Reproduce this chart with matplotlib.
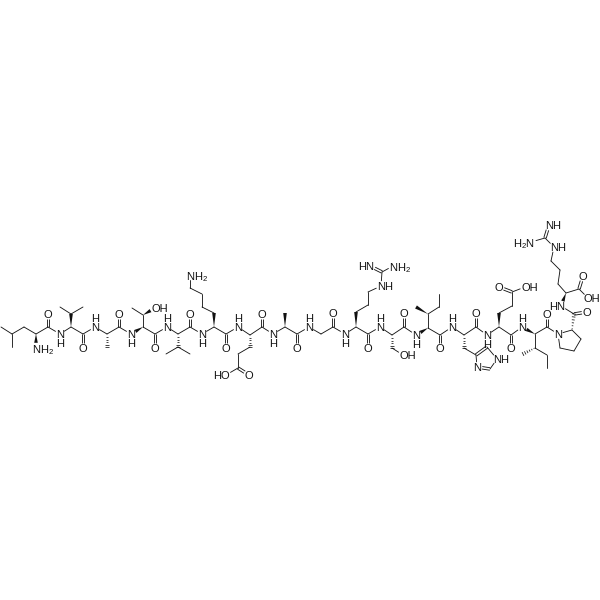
import numpy as np
import matplotlib
matplotlib.use("Agg")
import matplotlib.pyplot as plt

plt.rcParams['font.family'] = ['Liberation Sans', 'DejaVu Sans']

atom_names = ("N1 CA1 CB1 CG1 CD1a CD1b C1 O1 "
    "N2 CA2 CB2 CG2a CG2b C2 O2 "
    "N3 CA3 CB3 C3 O3 "
    "N4 CA4 CB4 CG4 OG4 C4 O4 "
    "N5 CA5 CB5 CG5a CG5b C5 O5 "
    "N6 CA6 CB6 CG6 CD6 CE6 NZ6 C6 O6 "
    "N7 CA7 CB7 CG7 CD7 OE7a OE7b C7 O7 "
    "N8 CA8 CB8 C8 O8 "
    "N9 CA9 C9 O9 "
    "N10 CA10 CB10 CG10 CD10 NE10 CZ10 NH10a NH10b C10 O10 "
    "N11 CA11 CB11 OG11 C11 O11 "
    "N12 CA12 CB12 CG12a CG12b CD12 C12 O12 "
    "N13 CA13 CB13 CG13 CD13 NE13 CE13 ND13 C13 O13 "
    "N14 CA14 CB14 CG14 CD14 OE14a OE14b C14 O14 "
    "N15 CA15 CB15 CG15a CG15b CD15 C15 O15 "
    "N16 CA16 CB16 CG16 CD16 C16 O16 "
    "N17 CA17 CB17 CG17 CD17 NE17 CZ17 NH17a NH17b C17 O17a O17b").split()
atom_x = [36,36,24,12,1,12,48,48,
    60,71,71,60,83,83,83,
    95,107,107,119,119,
    131,143,143,132,155,155,155,
    167,178,178,166,190,190,190,
    202,214,214,202,202,190,190,226,226,
    238,250,250,238,238,249,226,262,262,
    273,285,285,297,297,
    309,321,333,333,
    345,356,356,368,368,381,382,370,393,368,368,
    380,392,392,403,404,404,
    416,428,428,416,439,439,440,440,
    452,464,464,476,487,497,490,477,476,476,
    487,499,499,512,512,499,525,511,511,
    522,535,535,523,547,547,547,547,
    558,572,581,574,560,574,587,
    561,566,558,560,551,554,545,549,531,579,583,588]
atom_y = [348,334,327,334,327,347,327,314,
    334,327,314,307,307,334,348,
    327,334,347,327,314,
    334,327,315,308,308,334,348,
    327,334,347,354,354,327,314,
    334,327,313,307,294,288,275,334,348,
    327,335,347,354,368,375,375,327,314,
    334,327,313,334,348,
    327,334,327,313,
    334,327,312,305,292,286,272,266,266,334,348,
    327,335,348,355,327,313,
    335,328,314,307,307,294,335,348,
    327,335,348,355,347,359,369,367,327,313,
    335,327,313,306,292,287,287,335,348,
    327,334,348,354,355,368,327,314,
    334,330,339,351,348,314,312,
    306,293,284,270,261,247,238,225,242,289,276,298]

single_bonds = """CA1-CB1 CB1-CG1 CG1-CD1a CG1-CD1b CA1-C1 C1-N2
N2-CA2 CB2-CG2a CB2-CG2b CA2-C2 C2-N3
N3-CA3 CA3-C3 C3-N4
CA4-CB4 CB4-CG4 CA4-C4 C4-N5
N5-CA5 CB5-CG5a CB5-CG5b CA5-C5 C5-N6
N6-CA6 CB6-CG6 CG6-CD6 CD6-CE6 CE6-NZ6 CA6-C6 C6-N7
N7-CA7 CB7-CG7 CG7-CD7 CD7-OE7b CA7-C7 C7-N8
N8-CA8 CA8-C8 C8-N9
N9-CA9 CA9-C9 C9-N10
N10-CA10 CB10-CG10 CG10-CD10 CD10-NE10 NE10-CZ10 CZ10-NH10b CA10-C10 C10-N11
N11-CA11 CB11-OG11 CA11-C11 C11-N12
CA12-CB12 CB12-CG12b CG12b-CD12 CA12-C12 C12-N13
N13-CA13 CB13-CG13 CG13-ND13 CD13-NE13 NE13-CE13 CA13-C13 C13-N14
N14-CA14 CB14-CG14 CG14-CD14 CD14-OE14b CA14-C14 C14-N15
CA15-CB15 CB15-CG15b CG15b-CD15 CA15-C15 C15-N16
N16-CA16 CA16-CB16 CB16-CG16 CG16-CD16 CD16-N16 C16-N17
CA17-CB17 CB17-CG17 CG17-CD17 CD17-NE17 NE17-CZ17 CZ17-NH17b CA17-C17 C17-O17b""".split()
double_bonds = """C1-O1 C2-O2 C3-O3 C4-O4 C5-O5 C6-O6 C7-O7 C8-O8 C9-O9 C10-O10 C11-O11
C12-O12 C13-O13 C14-O14 C15-O15 C16-O16 C17-O17a CD7-OE7a CD14-OE14a CZ10-NH10a CZ17-NH17a
CG13-CD13 CE13-ND13""".split()
wedge_bonds = """CA1-N1 CA2-CB2 CA4-N4 CB4-OG4 CA6-CB6 CA8-CB8 CA10-CB10 CA12-N12 CB12-CG12a
CA14-CB14 CA15-N15 CA17-N17""".split()
hash_bonds = "CA3-CB3 CA5-CB5 CA7-CB7 CA11-CB11 CA13-CB13 CB15-CG15a CA16-C16".split()

NH2 = r'$\mathregular{NH_2}$'
H2N = r'$\mathregular{H_2N}$'
label_atoms = ["N1", "OG4", "NZ6", "OE7b", "NE10", "NH10a", "NH10b", "OG11", "NE13", "OE14b",
               "NE17", "NH17a", "NH17b", "O17b", "N17", "ND13", "N16"]
label_texts = [NH2, "OH", NH2, "HO", "NH", "HN", NH2, "OH", "NH", "OH",
               "NH", "NH", H2N, "OH", "HN", "N", "N"]
label_sides = ["l", "l", "l", "r", "l", "r", "l", "l", "l", "l",
               "l", "l", "r", "l", "r", "c", "c"]
oxygens = ["O%d" % i for i in range(1, 17)] + ["O17a", "OE7a", "OE14a"]
amide_h_below = ["N2", "N4", "N6", "N8", "N10", "N12", "N14"]
amide_h_above = ["N3", "N5", "N7", "N9", "N11", "N13", "N15"]

pos = {n: np.array([x, y], float) for n, x, y in zip(atom_names, atom_x, atom_y)}
labelled = set(label_atoms) | set(oxygens) | set(amide_h_below) | set(amide_h_above)

fig = plt.figure(figsize=(6, 6), dpi=100)
ax = fig.add_axes([0, 0, 1, 1])
ax.set_xlim(0, 600)
ax.set_ylim(600, 0)
ax.axis('off')

LW = 0.62
GAP = 5.2
INK = '#111111'


def ends(bond):
    a, b = bond.split('-')
    p, q = pos[a].copy(), pos[b].copy()
    u = (q - p) / np.linalg.norm(q - p)
    if a in labelled:
        p = p + u * GAP
    if b in labelled:
        q = q - u * GAP
    return p, q, u


for bond in single_bonds:
    p, q, u = ends(bond)
    ax.plot([p[0], q[0]], [p[1], q[1]], color=INK, lw=LW, solid_capstyle='round')

for bond in double_bonds:
    p, q, u = ends(bond)
    n = np.array([-u[1], u[0]]) * 1.25
    for s in (-1, 1):
        ax.plot([p[0] + s * n[0], q[0] + s * n[0]], [p[1] + s * n[1], q[1] + s * n[1]],
                color=INK, lw=LW, solid_capstyle='butt')

for bond in wedge_bonds:
    p, q, u = ends(bond)
    n = np.array([-u[1], u[0]]) * 1.8
    ax.fill([p[0], q[0] + n[0], q[0] - n[0]], [p[1], q[1] + n[1], q[1] - n[1]], color=INK, lw=0)

for bond in hash_bonds:
    p, q, u = ends(bond)
    n = np.array([-u[1], u[0]])
    for t in np.linspace(0.08, 1, 6):
        c = p + (q - p) * t
        w = 1.8 * t + 0.3
        ax.plot([c[0] - n[0] * w, c[0] + n[0] * w], [c[1] - n[1] * w, c[1] + n[1] * w],
                color=INK, lw=0.55, solid_capstyle='butt')

FS = 8.0
txt = dict(fontsize=FS, color=INK, va='center_baseline')


def put(x, y, s, ha='center'):
    ax.text(x, y, s, ha=ha, **txt)


for n in oxygens:
    put(*pos[n], "O")
for n in amide_h_below:
    put(*pos[n], "N")
    put(pos[n][0], pos[n][1] + 9, "H")
for n in amide_h_above:
    put(*pos[n], "N")
    put(pos[n][0], pos[n][1] - 9, "H")
for n, s, side in zip(label_atoms, label_texts, label_sides):
    x, y = pos[n]
    if side == 'l':
        put(x - 4, y, s, ha='left')
    elif side == 'r':
        put(x + 4, y, s, ha='right')
    else:
        put(x, y, s)

fig.savefig("out.png", dpi=100)
